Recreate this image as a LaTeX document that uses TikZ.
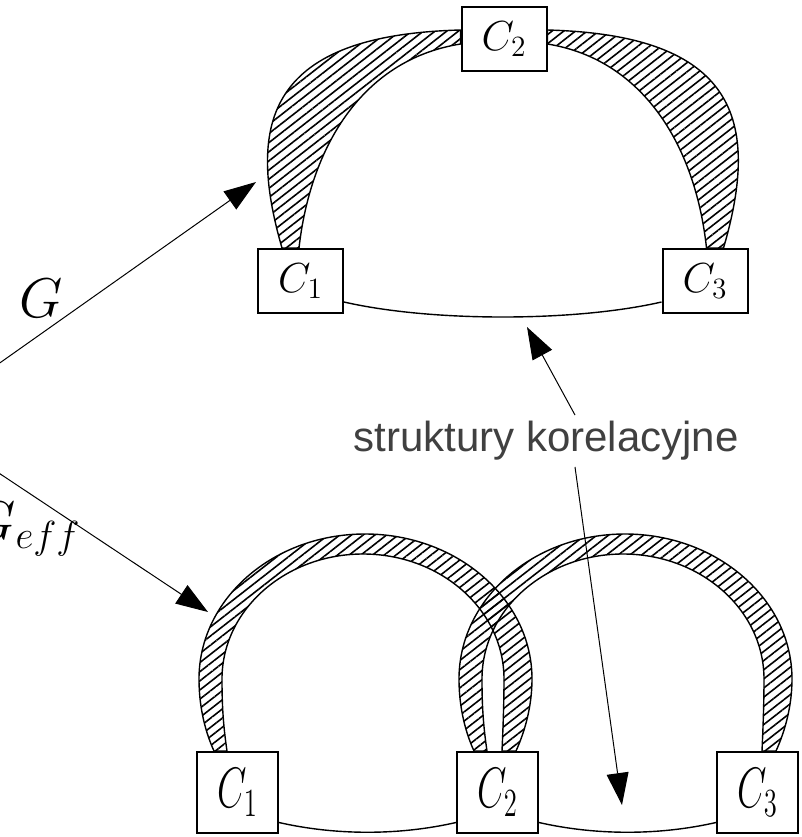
\RequirePackage{fix-cm}
\documentclass[tikz,border=0pt]{standalone}
\usepackage{fontspec}
\usepackage{tikz}
\usetikzlibrary{arrows.meta,patterns.meta,calc}
\newfontfamily\labelsans{Liberation Sans}
\definecolor{labelgray}{HTML}{404040}
\newcommand\tallC[1]{\scalebox{1}[1.5]{$C_{#1}$}}

\begin{document}
\begin{tikzpicture}[x=0.5pt,y=-0.5pt,
    box/.style={draw,line width=1pt,fill=white,inner sep=0pt},
    topbox/.style={box,minimum width=42.5pt,minimum height=32pt,font=\fontsize{21}{25}\selectfont},
    botbox/.style={box,minimum width=40.5pt,minimum height=40.5pt,font=\fontsize{19}{23}\selectfont},
    band/.style={line width=0.7pt,pattern={Lines[angle=38,distance=3.6pt,line width=0.8pt]}},
    link/.style={line width=0.7pt},
    pointer/.style={line width=0.5pt,-{Triangle[length=16pt,width=11pt]}},
    bigmath/.style={inner sep=0pt,font=\fontsize{28}{34}\selectfont}]

\useasboundingbox (0,0) rectangle (802,837);

%-------------------------------------------------------------------
% Upper structure: C1, C2, C3 linked by two bands and a thin link
\node[topbox] (t1) at (300.5,281) {$C_1$};
\node[topbox] (t2) at (504,39) {$C_2$};
\node[topbox] (t3) at (705,281) {$C_3$};

% left band C1 -> C2
\draw[band] ($(t1.north west)+(25,0)$) .. controls (245,120) and (270,35) .. ($(t2.north west)+(0,24)$)
  -- ($(t2.north west)+(0,38)$) .. controls (360,60) and (310,150) .. ($(t1.north west)+(42,0)$) -- cycle;
% right band C3 -> C2
\draw[band] ($(t3.north east)+(-25,0)$) .. controls (761,120) and (736,35) .. ($(t2.north east)+(0,24)$)
  -- ($(t2.north east)+(0,38)$) .. controls (646,60) and (696,150) .. ($(t3.north east)+(-42,0)$) -- cycle;

% thin link C1 -- C3
\draw[link] ($(t1.east)+(0,21)$) .. controls +(87,20) and +(-87,20) .. ($(t3.west)+(0,21)$);

%-------------------------------------------------------------------
% Lower structure: two interlocking arches
\foreach \n/\x in {1/237.5,2/497.5,3/757.5}{
    \node[botbox] (b\n) at (\x,792.5) {\tallC{\n}};
}

\foreach \a in {b1,b2}{
  \begin{scope}[shift={(\a.north west)}]
    \draw[band] (18,0) .. controls (8,-22) and (3,-47) .. (3,-72)
      .. controls (3,-152) and (77,-217) .. (169,-217)
      .. controls (261,-217) and (336,-152) .. (336,-72)
      .. controls (336,-47) and (330,-22) .. (320,0)
      -- (306,0) .. controls (307,-22) and (308,-47) .. (308,-72)
      .. controls (308,-141) and (245,-197) .. (167,-197)
      .. controls (89,-197) and (26,-141) .. (26,-72)
      .. controls (26,-47) and (27,-27) .. (31,0) -- cycle;
  \end{scope}
}

\foreach \a/\b in {b1/b2,b2/b3}{
    \draw[link] ($(\a.east)+(0,30)$) .. controls +(57,13) and +(-57,13) .. ($(\b.west)+(0,30)$);
}

%-------------------------------------------------------------------
% Arrows G and G_eff
\coordinate (src) at (-81,420);
\coordinate (tipG) at (256,182);
\coordinate (tipGeff) at (208,612);
\draw[pointer] (src) -- (tipG);
\draw[pointer] (src) -- (tipGeff);
\node[bigmath,anchor=base] (lblG) at (41,317) {$G$};
\node[bigmath,anchor=base west] (lblGeff) at (-28,540) {$G_{eff}$};

% correlation structures label
\node[font=\labelsans\fontsize{21}{25}\selectfont,text=labelgray,inner sep=3pt] (lblStr) at (546,441)
  {struktury korelacyjne};
\coordinate (tipUp) at (527,327);
\coordinate (tipDown) at (622,805);
\draw[pointer] ($(lblStr.north)+(29,0)$) -- (tipUp);
\draw[pointer] ($(lblStr.south)+(29,0)$) -- (tipDown);

\end{tikzpicture}
\end{document}
